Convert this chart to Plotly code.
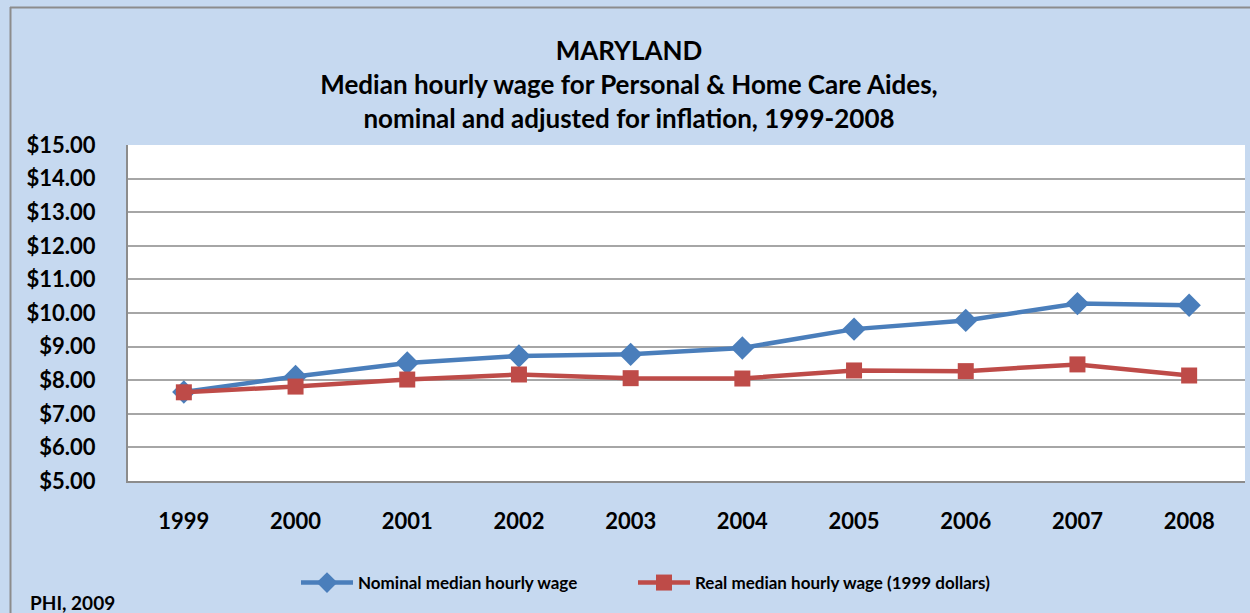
import plotly.graph_objects as go

years = ["1999", "2000", "2001", "2002", "2003", "2004", "2005", "2006", "2007", "2008"]
nominal = [7.65, 8.11, 8.51, 8.72, 8.77, 8.96, 9.52, 9.78, 10.28, 10.23]
real = [7.64, 7.81, 8.02, 8.17, 8.06, 8.05, 8.29, 8.27, 8.47, 8.14]
y_ticks = [5, 6, 7, 8, 9, 10, 11, 12, 13, 14, 15]
y_tick_labels = ["$%.2f" % v for v in y_ticks]

FONT = "Lato"
BLUE = "#4A7EBB"
RED = "#BE4B48"

fig = go.Figure()
fig.add_trace(go.Scatter(
    x=years, y=nominal, mode="lines+markers", name="Nominal median hourly wage",
    line=dict(color=BLUE, width=4.5),
    marker=dict(symbol="diamond", size=18, color=BLUE),
    legend="legend",
))
fig.add_trace(go.Scatter(
    x=years, y=real, mode="lines+markers", name="Real median hourly wage (1999 dollars)",
    line=dict(color=RED, width=4.5),
    marker=dict(symbol="square", size=16, color=RED),
    legend="legend2",
))

W, H = 1250, 613
L, R, T, B = 128, 5, 145, 132
pw, ph = W - L - R, H - T - B

def px_x(x):
    return (x - L) / pw

def px_y(y):
    return (H - B - y) / ph

legend_common = dict(
    orientation="h", xanchor="left",
    y=px_y(583), yanchor="middle",
    bgcolor="rgba(0,0,0,0)",
    font=dict(family=FONT, size=17, weight="bold"),
    itemwidth=52,
)

fig.update_layout(
    width=W, height=H,
    margin=dict(l=L, r=R, t=T, b=B),
    paper_bgcolor="#C6D9F0",
    plot_bgcolor="white",
    font=dict(family=FONT, color="black"),
    title=dict(
        text="MARYLAND<br>Median hourly wage for Personal &amp; Home Care Aides,<br>nominal and adjusted for inflation, 1999-2008",
        xref="container", yref="container",
        x=629 / W, xanchor="center",
        y=1 - 60 / H, yanchor="top",
        font=dict(family=FONT, size=26, color="black", weight="bold"),
    ),
    xaxis=dict(
        type="category", range=[-0.5, 9.5],
        showgrid=False, showline=True, linecolor="#8C8C8C", linewidth=2,
        ticks="", tickfont=dict(family=FONT, size=22, weight="bold"),
        ticklabelstandoff=20,
    ),
    yaxis=dict(
        range=[5, 15], tickvals=y_ticks, ticktext=y_tick_labels,
        showgrid=True, gridcolor="#A6A6A6", gridwidth=2,
        showline=True, linecolor="#8C8C8C", linewidth=2,
        zeroline=False, ticks="",
        tickfont=dict(family=FONT, size=22, weight="bold"),
        ticklabelstandoff=26,
    ),
    showlegend=True,
    legend=dict(x=px_x(296), **legend_common),
    legend2=dict(x=px_x(633), **legend_common),
    annotations=[dict(
        text="<b>PHI, 2009</b>", xref="paper", yref="paper",
        x=px_x(28), y=px_y(602), xanchor="left", yanchor="middle",
        showarrow=False, font=dict(family=FONT, size=19, color="black"),
    )],
    shapes=[
        dict(type="line", xref="paper", yref="paper",
             x0=px_x(10), x1=px_x(1260), y0=px_y(7.5), y1=px_y(7.5),
             line=dict(color="#8C8C8C", width=2)),
        dict(type="line", xref="paper", yref="paper",
             x0=px_x(10.5), x1=px_x(10.5), y0=px_y(7), y1=px_y(620),
             line=dict(color="#8C8C8C", width=2)),
    ],
)

fig.write_html(
    "out.html",
    config={"displayModeBar": False},
    post_script="document.body.style.margin='0';document.body.style.overflow='hidden';",
)
